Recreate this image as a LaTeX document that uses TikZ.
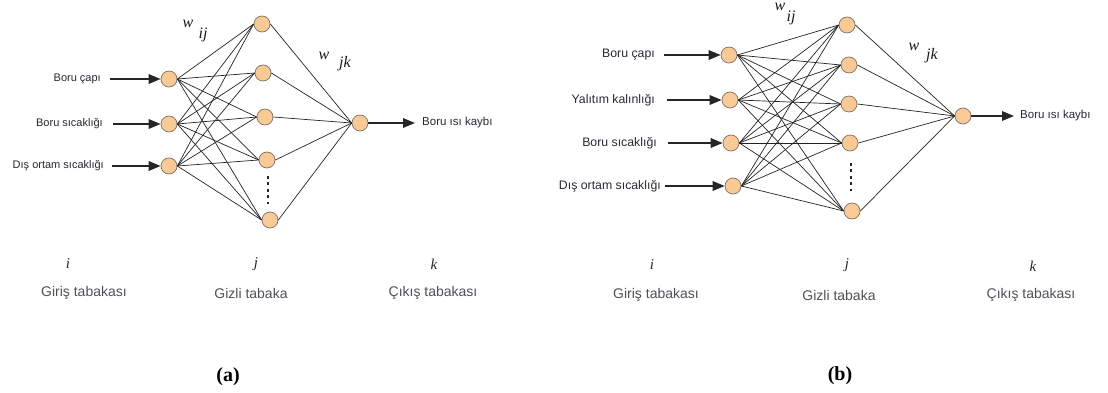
\documentclass[tikz,border=0pt]{standalone}
\usepackage{fontspec}
\setmainfont{Liberation Serif}
\setsansfont{Liberation Sans}
\usetikzlibrary{arrows.meta}
\definecolor{nodefill}{RGB}{249,201,150}
\definecolor{nodedraw}{RGB}{125,112,100}
\definecolor{edgecol}{RGB}{35,35,35}
\definecolor{labcol}{RGB}{40,40,48}
\definecolor{laycol}{RGB}{80,80,86}
\begin{document}
\begin{tikzpicture}[x=1pt,y=-1pt,
  neuron/.style={circle,fill=nodefill,draw=nodedraw,line width=0.7pt,minimum size=16pt,inner sep=0pt},
  edge/.style={draw=edgecol,line width=0.7pt},
  inarrow/.style={draw=black!85,line width=1.8pt,-{Triangle[length=12pt,width=9.5pt]}},
  inlaba/.style={font=\sffamily\fontsize{11}{13}\selectfont,text=labcol,anchor=east,inner sep=0pt},
  inlabb/.style={font=\sffamily\fontsize{12.3}{14}\selectfont,text=labcol,anchor=east,inner sep=0pt},
  outlab/.style={font=\sffamily\fontsize{11.5}{13}\selectfont,text=labcol,anchor=west,inner sep=0pt},
  laylab/.style={font=\sffamily\fontsize{14}{16}\selectfont,text=laycol,inner sep=0pt},
  idx/.style={font=\itshape\fontsize{15}{17}\selectfont,text=black!85,inner sep=0pt},
  wlab/.style={font=\itshape\fontsize{16}{18}\selectfont,text=black!90,inner sep=0pt},
  captext/.style={font=\bfseries\fontsize{20}{22}\selectfont,inner sep=0pt},
  dotsline/.style={draw=black!85,line width=2.8pt,dash pattern=on 2.8pt off 3.6pt}]
\useasboundingbox (0,0) rectangle (1108,393);

% ================= Panel (a) =================
\node[neuron] (aI1) at (169,79) {};
\node[neuron] (aI2) at (169,124) {};
\node[neuron] (aI3) at (169,166) {};
\node[neuron] (aH1) at (262,24) {};
\node[neuron] (aH2) at (263,73) {};
\node[neuron] (aH3) at (265,117) {};
\node[neuron] (aH4) at (267,160) {};
\node[neuron] (aH5) at (270,220) {};
\node[neuron] (aO) at (360,123) {};

\foreach \i in {1,2,3}{
  \foreach \h in {1,...,5}{
    \draw[edge] (aI\i.east) -- (aH\h.west);
  }
}
\foreach \h in {1,...,5}{
  \draw[edge] (aH\h.east) -- (aO.west);
}
\coordinate (aD1) at (268,176);
\coordinate (aD2) at (268,207);
\draw[dotsline] (aD1) -- (aD2);

\node[inlaba] (aL1) at (101,79) {Boru çapı};
\node[inlaba] (aL2) at (103,124) {Boru sıcaklığı};
\node[inlaba] (aL3) at (104,166) {Dış ortam sıcaklığı};
\draw[inarrow] (aL1.east) ++(9,0) coordinate (aA1) (aA1) -- (aI1.west);
\draw[inarrow] (aL2.east) ++(10,0) coordinate (aA2) (aA2) -- (aI2.west);
\draw[inarrow] (aL3.east) ++(8,0) coordinate (aA3) (aA3) -- (aI3.west);
\coordinate (aOE) at (415,123);
\draw[inarrow] (aO.east) -- (aOE);
\node[outlab] (aOL) at (422,123) {Boru ısı kaybı};

\node[wlab] (awij) at (188,24) {w};
\node[wlab] (awijs) at (203,35) {ij};
\node[wlab] (awjk) at (324,56) {w};
\node[wlab] (awjks) at (345,64) {jk};

\node[idx] (ai) at (68,264) {i};
\node[laylab] (aGi) at (84,293) {Giriş tabakası};
\node[idx] (aj) at (256,264) {j};
\node[laylab] (aGz) at (251,293) {Gizli tabaka};
\node[idx] (ak) at (434,264) {k};
\node[laylab] (aCk) at (433,293) {Çıkış tabakası};
\node[captext] (acap) at (228,377) {(a)};

% ================= Panel (b) =================
\node[neuron] (bI1) at (729,55) {};
\node[neuron] (bI2) at (730,100) {};
\node[neuron] (bI3) at (731,143) {};
\node[neuron] (bI4) at (733,186) {};
\node[neuron] (bH1) at (847,25) {};
\node[neuron] (bH2) at (849,65) {};
\node[neuron] (bH3) at (849,104) {};
\node[neuron] (bH4) at (850,143) {};
\node[neuron] (bH5) at (852,211) {};
\node[neuron] (bO) at (963,116) {};

\foreach \i in {1,...,4}{
  \foreach \h in {1,...,5}{
    \draw[edge] (bI\i.east) -- (bH\h.west);
  }
}
\foreach \h in {1,...,5}{
  \draw[edge] (bH\h.east) -- (bO.west);
}
\coordinate (bD1) at (851,163);
\coordinate (bD2) at (851,194);
\draw[dotsline] (bD1) -- (bD2);

\node[inlabb] (bL1) at (655,55) {Boru çapı};
\node[inlabb] (bL2) at (655,100) {Yalıtım kalınlığı};
\node[inlabb] (bL3) at (657,143) {Boru sıcaklığı};
\node[inlabb] (bL4) at (661,186) {Dış ortam sıcaklığı};
\draw[inarrow] (bL1.east) ++(9,0) coordinate (bA1) (bA1) -- (bI1.west);
\draw[inarrow] (bL2.east) ++(12,0) coordinate (bA2) (bA2) -- (bI2.west);
\draw[inarrow] (bL3.east) ++(11,0) coordinate (bA3) (bA3) -- (bI3.west);
\draw[inarrow] (bL4.east) ++(4,0) coordinate (bA4) (bA4) -- (bI4.west);
\coordinate (bOE) at (1014,116);
\draw[inarrow] (bO.east) -- (bOE);
\node[outlab] (bOL) at (1020,116) {Boru ısı kaybı};

\node[wlab] (bwij) at (780,7) {w};
\node[wlab] (bwijs) at (791,18) {ij};
\node[wlab] (bwjk) at (914,47) {w};
\node[wlab] (bwjks) at (932,56) {jk};

\node[idx] (bi) at (652,265) {i};
\node[laylab] (bGi) at (656,295) {Giriş tabakası};
\node[idx] (bj) at (847,265) {j};
\node[laylab] (bGz) at (839,295) {Gizli tabaka};
\node[idx] (bk) at (1033,266) {k};
\node[laylab] (bCk) at (1031,295) {Çıkış tabakası};
\node[captext] (bcap) at (840,376) {(b)};
\end{tikzpicture}
\end{document}
